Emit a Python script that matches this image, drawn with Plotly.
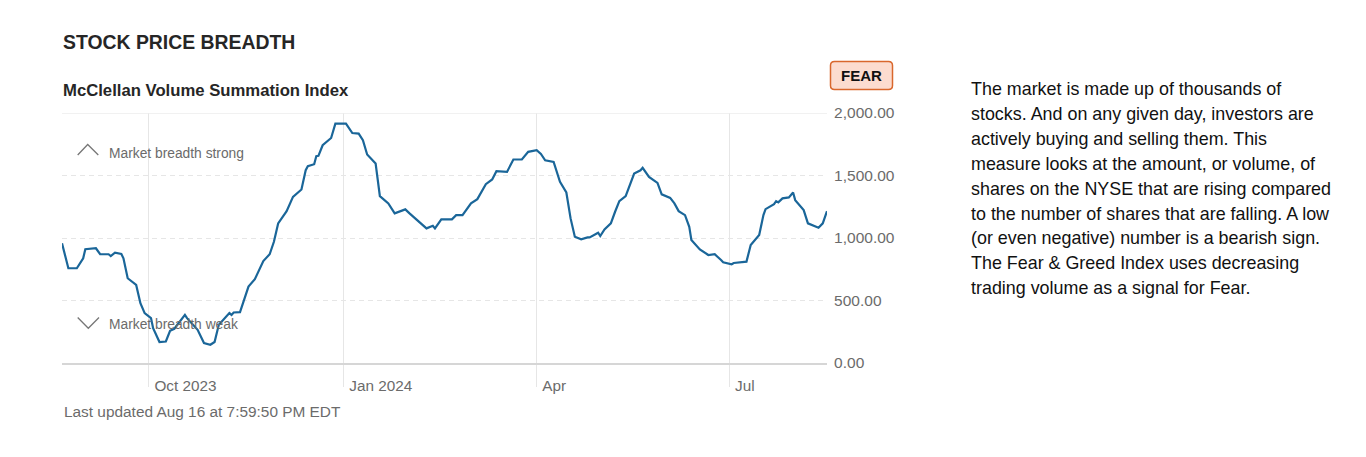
import plotly.graph_objects as go

# McClellan Volume Summation Index
dates = [
    "2023-08-21", "2023-08-23", "2023-08-24", "2023-08-28", "2023-08-31", "2023-09-01",
    "2023-09-06", "2023-09-08", "2023-09-12", "2023-09-13", "2023-09-15", "2023-09-18",
    "2023-09-19", "2023-09-21", "2023-09-25", "2023-09-27", "2023-09-29", "2023-10-02",
    "2023-10-03", "2023-10-06", "2023-10-09", "2023-10-11", "2023-10-13", "2023-10-18",
    "2023-10-19", "2023-10-24", "2023-10-27", "2023-10-30", "2023-11-01", "2023-11-03",
    "2023-11-06", "2023-11-08", "2023-11-09", "2023-11-10", "2023-11-13", "2023-11-15",
    "2023-11-17", "2023-11-20", "2023-11-24", "2023-11-27", "2023-11-29", "2023-12-01",
    "2023-12-05", "2023-12-08", "2023-12-12", "2023-12-14", "2023-12-15", "2023-12-18",
    "2023-12-19", "2023-12-20", "2023-12-22", "2023-12-26", "2023-12-28", "2024-01-02",
    "2024-01-05", "2024-01-08", "2024-01-10", "2024-01-12", "2024-01-16", "2024-01-18",
    "2024-01-22", "2024-01-25", "2024-01-30", "2024-02-01", "2024-02-09", "2024-02-12",
    "2024-02-13", "2024-02-16", "2024-02-21", "2024-02-23", "2024-02-26", "2024-03-01",
    "2024-03-04", "2024-03-08", "2024-03-11", "2024-03-13", "2024-03-18", "2024-03-21",
    "2024-03-25", "2024-03-28", "2024-04-01", "2024-04-03", "2024-04-05", "2024-04-09",
    "2024-04-10", "2024-04-12", "2024-04-15", "2024-04-17", "2024-04-19", "2024-04-22",
    "2024-04-25", "2024-04-26", "2024-04-30", "2024-05-01", "2024-05-03", "2024-05-06",
    "2024-05-08", "2024-05-10", "2024-05-13", "2024-05-15", "2024-05-17", "2024-05-20",
    "2024-05-21", "2024-05-24", "2024-05-28", "2024-05-30", "2024-06-03", "2024-06-05",
    "2024-06-07", "2024-06-10", "2024-06-12", "2024-06-13", "2024-06-17", "2024-06-21",
    "2024-06-24", "2024-06-27", "2024-06-28", "2024-07-02", "2024-07-03", "2024-07-09",
    "2024-07-11", "2024-07-15", "2024-07-17", "2024-07-18", "2024-07-22", "2024-07-23",
    "2024-07-24", "2024-07-26", "2024-07-29", "2024-07-31", "2024-08-01", "2024-08-05",
    "2024-08-07", "2024-08-12", "2024-08-14", "2024-08-16",
]
values = [
    958, 838, 758, 758, 838, 910,
    918, 870, 870, 856, 883, 872,
    838, 678, 625, 479, 399, 359,
    279, 168, 172, 258, 274, 385,
    359, 266, 160, 146, 168, 306,
    359, 399, 385, 404, 407, 519,
    611, 670, 816, 870, 970, 1117,
    1215, 1329, 1388, 1542, 1574, 1590,
    1654, 1657, 1742, 1800, 1915, 1915,
    1840, 1835, 1782, 1668, 1596, 1335,
    1277, 1197, 1229, 1197, 1077, 1098,
    1077, 1149, 1149, 1183, 1183, 1277,
    1311, 1431, 1468, 1535, 1529, 1628,
    1628, 1689, 1702, 1672, 1622, 1609,
    1556, 1449, 1364, 1157, 1010, 989,
    1005, 1005, 1042, 1016, 1069, 1117,
    1210, 1295, 1335, 1428, 1516, 1542,
    1561, 1489, 1441, 1349, 1321, 1277,
    1215, 1183, 1090, 984, 908, 864,
    870, 824, 806, 790, 800, 811,
    944, 1024, 1183, 1231, 1271, 1295,
    1285, 1317, 1325, 1364, 1303, 1223,
    1117, 1082, 1117, 1215,
]

x_ticks = ["2023-10-01", "2024-01-01", "2024-04-01", "2024-07-01"]
x_tick_labels = ["Oct 2023", "Jan 2024", "Apr", "Jul"]
y_ticks = [0, 500, 1000, 1500, 2000]

blurb = [
    "The market is made up of thousands of",
    "stocks. And on any given day, investors are",
    "actively buying and selling them. This",
    "measure looks at the amount, or volume, of",
    "shares on the NYSE that are rising compared",
    "to the number of shares that are falling. A low",
    "(or even negative) number is a bearish sign.",
    "The Fear & Greed Index uses decreasing",
    "trading volume as a signal for Fear.",
]

W, H = 1366, 457
OFF = 8  # page body margin
# plot area in screen pixels: x 62..827, y 113..363
L, T = 62 - OFF, 113 - OFF
PW, PH = 765, 250
R, B = W - L - PW, H - T - PH
FONT = "Liberation Sans"
GREY = "#6b6b6b"
GRID = "#e6e6e6"

# screen pixel -> paper helpers for the page furniture
def px(x):
    return (x - OFF - L) / PW

def py(y):
    return (T + PH + OFF - y) / PH

def path(points):
    return "M " + " L ".join("%f,%f" % (px(a), py(b)) for a, b in points)

fig = go.Figure()
fig.add_trace(go.Scatter(x=dates, y=values, mode="lines",
                         line=dict(color="#1a6699", width=2.2),
                         hoverinfo="skip", showlegend=False))

fig.update_xaxes(range=["2023-08-21", "2024-08-16"], tickvals=x_ticks, ticktext=x_tick_labels,
                 showgrid=True, gridcolor=GRID, gridwidth=1,
                 ticks="outside", ticklen=22, tickcolor=GRID, tickwidth=1,
                 ticklabelposition="outside right", ticklabelstandoff=8, ticklabelshift=4,
                 showline=True, linecolor="#d6d6d6", linewidth=2,
                 tickfont=dict(family=FONT, size=15.3, color=GREY), zeroline=False)
fig.update_yaxes(range=[0, 2000], tickvals=y_ticks, tickformat=",.2f", side="right",
                 showgrid=True, gridcolor=GRID, griddash="5px,4px",
                 ticks="outside", ticklen=3, tickcolor="rgba(0,0,0,0)",
                 tickfont=dict(family=FONT, size=15.5, color=GREY), zeroline=False)

shapes = [
    dict(type="line", xref="paper", yref="y", x0=0, x1=1, y0=2000, y1=2000,
         line=dict(color="#ececec", width=1.5)),
    dict(type="path", xref="paper", yref="paper",
         path=path([(77.7, 155), (87.7, 144.5), (98.3, 155)]),
         line=dict(color="#777777", width=1.3)),
    dict(type="path", xref="paper", yref="paper",
         path=path([(77.7, 317.5), (88.3, 328.3), (99, 317.5)]),
         line=dict(color="#777777", width=1.3)),
]

# rounded FEAR badge
bx0, bx1, by0, by1, r = 830.5, 892.5, 61.5, 89.5, 4
badge = ("M %f,%f L %f,%f Q %f,%f %f,%f L %f,%f Q %f,%f %f,%f L %f,%f Q %f,%f %f,%f L %f,%f Q %f,%f %f,%f Z" % (
    px(bx0 + r), py(by0), px(bx1 - r), py(by0), px(bx1), py(by0), px(bx1), py(by0 + r),
    px(bx1), py(by1 - r), px(bx1), py(by1), px(bx1 - r), py(by1),
    px(bx0 + r), py(by1), px(bx0), py(by1), px(bx0), py(by1 - r),
    px(bx0), py(by0 + r), px(bx0), py(by0), px(bx0 + r), py(by0)))
shapes.append(dict(type="path", xref="paper", yref="paper", path=badge,
                   fillcolor="#fcdccf", line=dict(color="#d9672c", width=1.5)))

annotations = [
    dict(text="<b>STOCK PRICE BREADTH</b>", x=px(61), y=py(42), xanchor="left", yanchor="middle",
         font=dict(family=FONT, size=19.4, color="#262626")),
    dict(text="<b>McClellan Volume Summation Index</b>", x=px(61), y=py(91), xanchor="left", yanchor="middle",
         font=dict(family=FONT, size=16.7, color="#262626")),
    dict(text="<b>FEAR</b>", x=px(861.5), y=py(75.5), xanchor="center", yanchor="middle",
         font=dict(family=FONT, size=15, color="#111111")),
    dict(text="Market breadth strong", x=px(107), y=py(153), xanchor="left", yanchor="middle",
         font=dict(family=FONT, size=13.8, color=GREY)),
    dict(text="Market breadth weak", x=px(107), y=py(324.5), xanchor="left", yanchor="middle",
         font=dict(family=FONT, size=13.8, color=GREY)),
    dict(text="Last updated Aug 16 at 7:59:50 PM EDT", x=px(62), y=py(411.5), xanchor="left", yanchor="middle",
         font=dict(family=FONT, size=15.4, color=GREY)),
]
for i, line in enumerate(blurb):
    annotations.append(dict(text=line, x=px(969), y=py(89 + 24.9 * i), xanchor="left", yanchor="middle",
                            font=dict(family=FONT, size=17.9, color="#111111")))
for a in annotations:
    a.update(xref="paper", yref="paper", showarrow=False)

fig.update_layout(width=W, height=H, margin=dict(l=L, r=R, t=T, b=B),
                  plot_bgcolor="white", paper_bgcolor="white",
                  shapes=shapes, annotations=annotations, showlegend=False)

fig.write_html("out.html")
